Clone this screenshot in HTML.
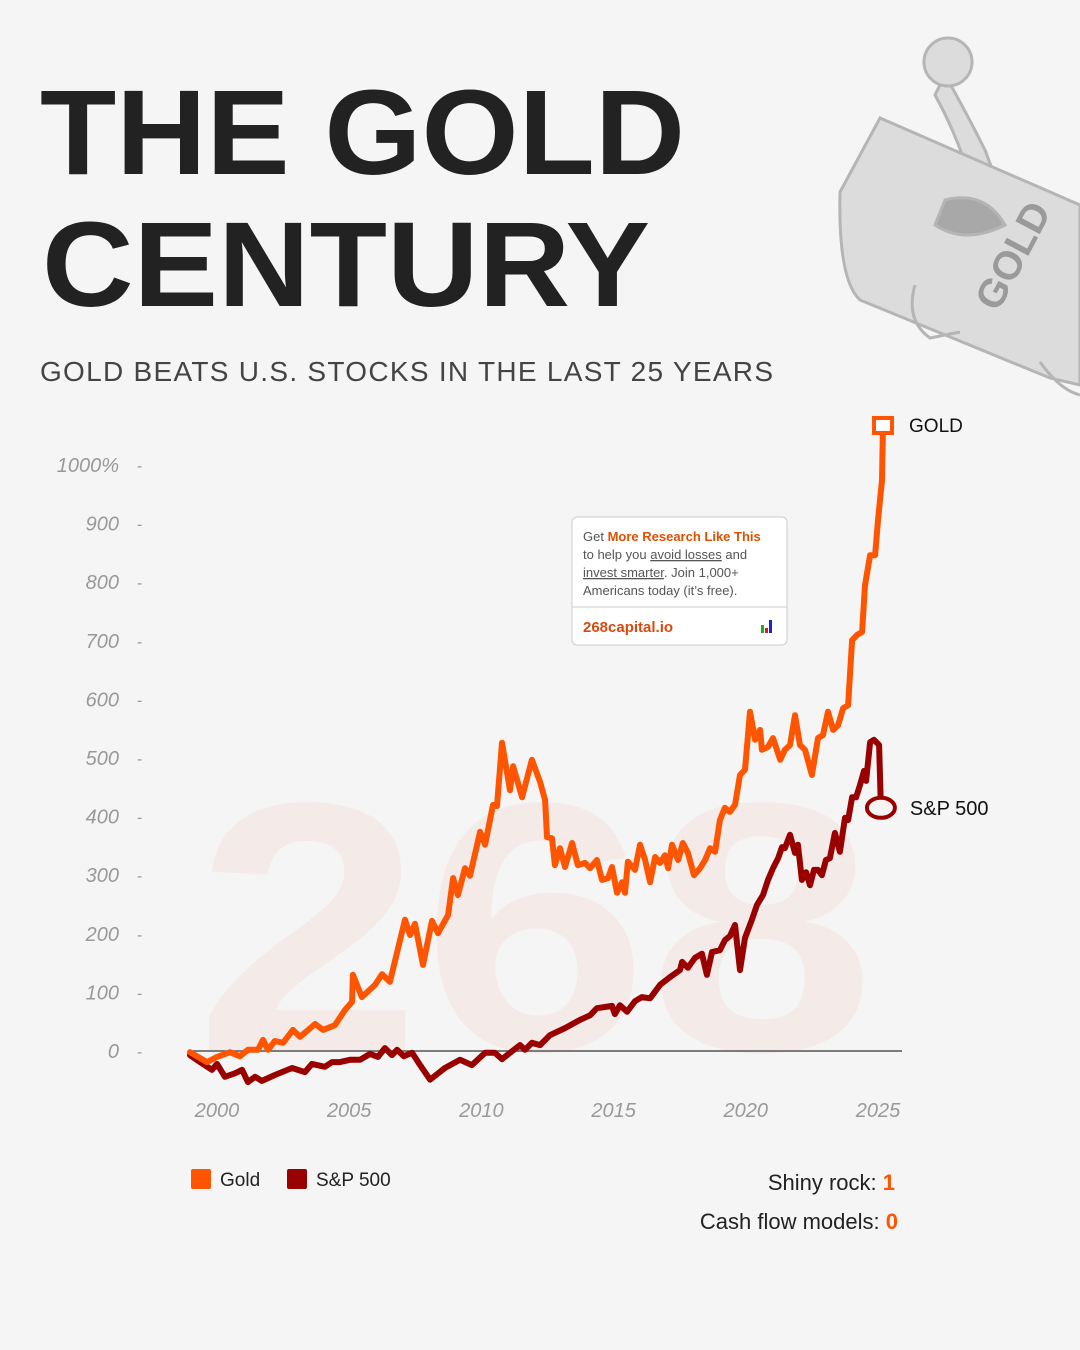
<!DOCTYPE html>
<html><head><meta charset="utf-8"><style>
html,body{margin:0;padding:0;background:#f5f5f5;}
svg{display:block;}
</style></head><body>
<svg id="chart" width="1080" height="1350" viewBox="0 0 1080 1350" xmlns="http://www.w3.org/2000/svg" font-family="Liberation Sans, sans-serif">
<rect width="1080" height="1350" fill="#f5f5f5"/>
<g fill="#dcdcdc" stroke="#b5b5b5" stroke-width="3">
  <path d="M945 75 Q965 110 985 150 L1000 190 L975 195 Q960 140 935 95 Z"/>
  <circle cx="948" cy="62" r="24"/>
  <path d="M880 118 L1080 205 L1080 385 L1050 378 L860 300 Q838 280 840 192 Z"/>
  <path d="M915 285 Q905 320 930 338 L960 332" fill="none"/>
  <path d="M1040 362 Q1060 390 1080 395" fill="none"/>
  <path d="M935 225 Q965 245 1005 225 Q985 190 945 200 Z" fill="#a8a8a8"/>
  <text x="1025" y="262" transform="rotate(-62 1025 262)" font-size="40" font-weight="700" fill="#9a9a9a" stroke="none" text-anchor="middle">GOLD</text>
</g>
<text x="40" y="174" font-size="121" font-weight="700" fill="#222" textLength="645" lengthAdjust="spacingAndGlyphs">THE GOLD</text>
<text x="42" y="306" font-size="121" font-weight="700" fill="#222" textLength="608" lengthAdjust="spacingAndGlyphs">CENTURY</text>
<text x="40" y="381" font-size="28" fill="#444" textLength="733" lengthAdjust="spacing">GOLD BEATS U.S. STOCKS IN THE LAST 25 YEARS</text>
<text x="195" y="1050" font-size="355" font-weight="700" fill="#f4ebe8" textLength="680" lengthAdjust="spacingAndGlyphs">268</text>
<g id="axes"></g>
<g id="series"></g>
<g>
  <rect x="572" y="517" width="215" height="128" rx="5" fill="#fff" stroke="#ccc"/>
  <line x1="572" y1="607" x2="787" y2="607" stroke="#ccc"/>
  <text x="583" y="541" font-size="13" fill="#555">Get <tspan fill="#e05000" font-weight="700">More Research Like This</tspan></text>
  <text x="583" y="559" font-size="13" fill="#555">to help you <tspan text-decoration="underline">avoid losses</tspan> and</text>
  <text x="583" y="577" font-size="13" fill="#555"><tspan text-decoration="underline">invest smarter</tspan>. Join 1,000+</text>
  <text x="583" y="595" font-size="13" fill="#555">Americans today (it’s free).</text>
  <text x="583" y="632" font-size="15" font-weight="700" fill="#d84a10">268capital.io</text>
  <rect x="761" y="625" width="3" height="8" fill="#2a2"/><rect x="765" y="628" width="3" height="5" fill="#c22"/><rect x="769" y="620" width="3" height="13" fill="#22c"/>
</g>
<g>
  <rect x="191" y="1169" width="20" height="20" rx="2" fill="#ff5500"/>
  <text x="220" y="1186" font-size="19" fill="#222">Gold</text>
  <rect x="287" y="1169" width="20" height="20" rx="2" fill="#990000"/>
  <text x="316" y="1186" font-size="19" fill="#222">S&amp;P 500</text>
</g>
<text x="895" y="1190" font-size="22" fill="#222" text-anchor="end">Shiny rock: <tspan fill="#ff5500" font-weight="700">1</tspan></text>
<text x="898" y="1229" font-size="22" fill="#222" text-anchor="end">Cash flow models: <tspan fill="#ff5500" font-weight="700">0</tspan></text>
</svg>
<script>
const yTicks = [0,100,200,300,400,500,600,700,800,900,1000];
const xTicks = [2000,2005,2010,2015,2020,2025];
const goldYears = [1998.98,1999.62,2000.00,2000.49,2000.87,2001.17,2001.55,2001.74,2001.93,2002.19,2002.50,2002.87,2003.14,2003.71,2004.01,2004.46,2004.84,2005.11,2005.14,2005.48,2005.98,2006.24,2006.54,2007.11,2007.30,2007.49,2007.79,2008.13,2008.36,2008.74,2008.93,2009.11,2009.38,2009.57,2009.95,2010.14,2010.44,2010.59,2010.78,2011.08,2011.20,2011.54,2011.91,2012.22,2012.41,2012.48,2012.67,2012.78,2012.97,2013.16,2013.43,2013.65,2013.92,2014.11,2014.37,2014.56,2014.79,2014.94,2015.13,2015.32,2015.43,2015.54,2015.81,2016.00,2016.19,2016.38,2016.57,2016.76,2016.94,2017.06,2017.21,2017.44,2017.62,2017.81,2018.04,2018.27,2018.46,2018.65,2018.84,2019.02,2019.21,2019.40,2019.59,2019.78,2019.97,2020.16,2020.35,2020.54,2020.61,2020.84,2021.03,2021.30,2021.48,2021.67,2021.86,2022.05,2022.24,2022.50,2022.73,2022.92,2023.11,2023.30,2023.49,2023.68,2023.87,2024.02,2024.21,2024.40,2024.51,2024.70,2024.89,2025.00,2025.15,2025.19];
const goldValues = [-2,-19,-10,-2,-9,2,2,19,2,17,14,36,24,46,36,44,70,84,130,92,113,131,118,224,198,217,147,222,201,232,295,266,312,299,374,352,420,418,526,445,486,433,497,459,428,365,363,317,346,314,355,317,321,312,326,292,295,314,270,288,270,323,309,352,326,288,331,321,334,312,352,326,355,338,300,312,326,346,340,394,415,408,420,471,480,579,531,548,514,519,534,497,514,522,573,522,514,471,534,539,579,548,556,585,590,701,710,715,795,846,846,906,974,1070];
const spYears = [1998.98,1999.36,1999.81,2000.00,2000.30,2000.68,2000.95,2001.17,2001.44,2001.70,2002.19,2002.84,2003.33,2003.59,2004.08,2004.35,2004.65,2005.03,2005.41,2005.79,2006.09,2006.35,2006.62,2006.81,2007.07,2007.38,2007.68,2008.06,2008.62,2009.19,2009.64,2010.14,2010.51,2010.78,2011.08,2011.46,2011.65,2011.91,2012.22,2012.59,2013.16,2013.73,2014.11,2014.37,2014.67,2014.94,2015.05,2015.24,2015.51,2015.81,2016.07,2016.38,2016.76,2017.13,2017.51,2017.59,2017.81,2018.08,2018.34,2018.53,2018.72,2019.02,2019.21,2019.40,2019.59,2019.78,2019.97,2020.23,2020.42,2020.65,2020.84,2021.03,2021.22,2021.37,2021.48,2021.67,2021.86,2021.97,2022.12,2022.28,2022.43,2022.58,2022.73,2022.88,2023.03,2023.18,2023.37,2023.56,2023.75,2023.87,2024.02,2024.17,2024.32,2024.47,2024.55,2024.70,2024.85,2025.04,2025.11];
const spValues = [-7,-19,-32,-22,-44,-38,-32,-53,-44,-51,-41,-29,-36,-22,-27,-19,-19,-15,-15,-5,-10,5,-7,2,-9,-3,-24,-49,-29,-15,-24,-3,-3,-14,-3,10,2,14,10,27,39,53,61,73,75,77,63,78,67,85,92,90,113,126,138,152,142,159,166,130,169,172,189,196,215,138,193,224,249,266,292,312,329,348,346,369,338,352,292,305,283,309,309,300,326,329,372,340,398,394,433,433,454,478,461,527,531,522,415];

const NS='http://www.w3.org/2000/svg';
const xS = y => 217 + (y-2000)*26.44;
const yS = v => 1051 - v*0.586;
function mk(tag, attrs, parent){const e=document.createElementNS(NS,tag);for(const k in attrs)e.setAttribute(k,attrs[k]);parent.appendChild(e);return e;}
const axes=document.getElementById('axes'), series=document.getElementById('series');
yTicks.forEach(t=>{
  const lab=mk('text',{x:119,y:yS(t)+7,'font-size':20,'font-style':'italic',fill:'#999','text-anchor':'end'},axes);
  
  
  lab.textContent = t===1000 ? '1000%' : String(t);
  const d=mk('text',{x:137,y:yS(t)+6,'font-size':16,fill:'#999'},axes);
  
  
  d.textContent='-';
});
xTicks.forEach(t=>{
  const lab=mk('text',{x:xS(t),y:1117,'font-size':20,'font-style':'italic',fill:'#999','text-anchor':'middle'},axes);
  
  
  lab.textContent=String(t);
});
const zl=mk('line',{x1:190,x2:902,y1:yS(0),y2:yS(0),stroke:'#555','stroke-width':1.5},axes);


function path(xs,vs){return xs.map((x,i)=>(i?'L':'M')+xS(x).toFixed(1)+' '+yS(vs[i]).toFixed(1)).join(' ');}
const sp=mk('path',{d:path(spYears,spValues),fill:'none',stroke:'#990000','stroke-width':6,'stroke-linejoin':'round','stroke-linecap':'round'},series);


const gl=mk('path',{d:path(goldYears,goldValues),fill:'none',stroke:'#ff5500','stroke-width':6,'stroke-linejoin':'round','stroke-linecap':'round'},series);


const gx=xS(goldYears[goldYears.length-1]), gy=yS(goldValues[goldValues.length-1]);
const gm=mk('rect',{x:gx-9,y:gy-6,width:18,height:15,fill:'#fff',stroke:'#ff5500','stroke-width':4},series);


const gt=mk('text',{x:gx+26,y:gy+8,'font-size':19,fill:'#111'},series);


gt.textContent='GOLD';
const sx=xS(spYears[spYears.length-1]), sy=yS(spValues[spValues.length-1]);
const sm=mk('ellipse',{cx:sx,cy:sy,rx:14,ry:10,fill:'#f5f5f5',stroke:'#990000','stroke-width':4},series);


const st=mk('text',{x:sx+29,y:sy+7,'font-size':20,fill:'#111'},series);


st.textContent='S&P 500';
</script>
</body></html>
